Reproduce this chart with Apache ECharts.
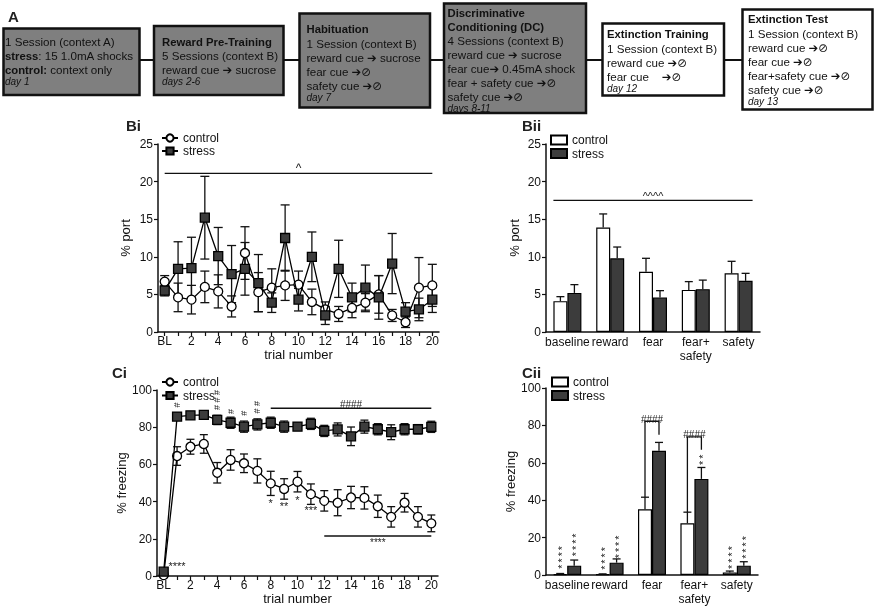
<!DOCTYPE html>
<html><head><meta charset="utf-8">
<script src="https://cdn.jsdelivr.net/npm/echarts@6/dist/echarts.min.js"></script>
<style>html,body{margin:0;padding:0;background:#fff}#c{width:876px;height:606px;will-change:transform}#c svg{will-change:transform}</style>
</head><body><div id="c"></div>
<script>
// ---------------- DATA ----------------
const trialLabels = ['BL','1','2','3','4','5','6','7','8','9','10','11','12','13','14','15','16','17','18','19','20'];
const barCategories = ['baseline','reward','fear','fear+\nsafety','safety'];

// Bi: % port by trial
const portControl    = [6.7,4.6,4.3,6.0,5.4,3.4,10.5,5.3,5.9,6.2,6.3,4.0,3.0,2.4,3.2,3.9,5.0,2.2,1.3,5.9,6.2];
const portControlErr = [0.8,1.9,1.9,2.1,2.2,1.4,3.5,2.6,2.5,2.0,1.8,1.7,1.0,1.0,1.3,1.2,2.5,0.8,0.7,4.0,2.8];
const portStress     = [5.5,8.4,8.5,15.2,10.1,7.7,8.4,6.5,3.9,12.5,4.3,10.0,2.2,8.4,4.6,5.9,4.6,9.1,2.7,3.0,4.3];
const portStressErr  = [0.7,3.6,4.1,5.5,3.8,3.8,3.5,3.8,1.3,4.4,1.5,3.3,1.2,3.8,1.9,3.0,2.9,4.0,1.2,1.5,1.7];

// Bii: % port by cue
const portBarControl    = [4.1,13.9,8.0,5.6,7.8];
const portBarControlErr = [0.6,1.8,1.8,1.1,1.6];
const portBarStress     = [5.2,9.8,4.6,5.7,6.8];
const portBarStressErr  = [1.1,1.5,0.9,1.2,1.0];

// Ci: % freezing by trial
const freezeControl    = [0.5,64.5,69.5,71.0,55.5,62.4,60.6,56.5,49.8,46.8,50.7,44.0,40.4,39.4,42.2,42.0,37.5,31.8,39.4,31.8,28.3];
const freezeControlErr = [0.5,5.0,4.0,5.0,5.5,5.5,5.0,6.5,6.5,5.5,5.5,5.5,5.5,7.0,6.0,6.0,6.0,5.5,5.0,5.5,4.5];
const freezeStress     = [2.3,85.7,86.4,86.6,83.9,82.4,80.3,81.5,82.4,80.3,80.3,81.8,78.0,78.8,75.1,80.3,78.9,77.3,78.9,78.9,80.2];
const freezeStressErr  = [1.0,2.0,2.0,2.0,2.5,3.0,3.0,3.0,3.0,3.0,2.0,3.0,3.0,3.5,5.0,3.5,3.0,4.0,3.0,2.5,3.0];

// Cii: % freezing by cue
const freezeBarControl    = [0.5,0.4,35.2,27.7,1.4];
const freezeBarControlErr = [0.3,0.2,6.4,5.9,0.7];
const freezeBarStress     = [5.0,6.6,66.4,51.4,5.0];
const freezeBarStressErr  = [3.0,2.0,4.5,6.1,2.1];

// significance annotations (data coordinates)
const sigLinesBi  = [[0,20,21.1,'^','top']];
const sigLinesBii = [[0,4,17.5,'^^^^','top']];
const sigLinesCi  = [[8,20,90.2,'####','top'],[12,20,21.5,'****','bottom']];
const hashMarksCi = [[1,92,'#'],[4,94.6,'# # #'],[5,88.5,'#'],[6,87.5,'#'],[7,90.7,'# #']];
const starMarksCi = [[8,39.5,'*'],[9,37.5,'**'],[10,41,'*'],[11,35.5,'***'],[1,5.5,'****']];
const bracketsCii = [[2,41.6,82.1,75,'####'],[3,33.6,73.9,67,'####']];
const S4 = '*\u2009*\u2009*\u2009*', S2 = '*\u2009*';
const starStacksCii = [[0,-1,9.4,S4],[0,1,16.1,S4],[1,-1,8.8,S4],[1,1,15,S4],[4,-1,9.3,S4],[4,1,14.7,S4],[3,1,61.6,S2]];

// ---------------- STYLE ----------------
const F = "'Liberation Sans','DejaVu Sans',Arial,sans-serif";
const INK = '#111';
const NOTE = '#222';
const STRESS_FILL = '#3c3c3c';
const BAR_W = 14;

function xCat(grid, data, extra) {
  return Object.assign({
    gridIndex: grid, type: 'category', data: data, boundaryGap: true,
    axisLine: {show: true, lineStyle: {color: INK, width: 1.5}},
    splitLine: {show: false},
    nameTextStyle: {color: INK, fontSize: 13, fontFamily: F}
  }, extra);
}
function yVal(grid, max, step, name, gap) {
  return {
    gridIndex: grid, type: 'value', min: 0, max: max, interval: step,
    name: name, nameLocation: 'middle', nameGap: gap,
    nameTextStyle: {color: INK, fontSize: 13, fontFamily: F},
    axisLine: {show: true, lineStyle: {color: INK, width: 1.5}},
    axisTick: {show: true, length: 4, lineStyle: {color: INK, width: 1.2}},
    axisLabel: {color: INK, fontSize: 12, fontFamily: F, margin: 5},
    splitLine: {show: false}
  };
}

function errorBars(gi, means, errs, opts) {
  return {
    type: 'custom', xAxisIndex: gi, yAxisIndex: gi, z: opts.z || 2, silent: true,
    itemStyle: {color: INK},
    data: means.map((m, i) => [i, m, errs[i]]),
    encode: {x: 0, y: 1},
    renderItem: function (params, api) {
      const i = api.value(0), m = api.value(1), e = api.value(2);
      const c = api.coord([i, m]);
      const t = api.coord([i, m + e]);
      const b = api.coord([i, opts.up ? m : Math.max(0, m - e)]);
      const x = c[0] + (opts.dx || 0), hw = opts.cap / 2;
      const st = {stroke: INK, lineWidth: 1.3, fill: null};
      const ch = [
        {type: 'line', shape: {x1: x, y1: t[1], x2: x, y2: b[1]}, style: st},
        {type: 'line', shape: {x1: x - hw, y1: t[1], x2: x + hw, y2: t[1]}, style: st}
      ];
      if (!opts.up) ch.push({type: 'line', shape: {x1: x - hw, y1: b[1], x2: x + hw, y2: b[1]}, style: st});
      return {type: 'group', children: ch};
    }
  };
}

function sigLines(gi, items, ext, fs) {
  return {
    type: 'custom', xAxisIndex: gi, yAxisIndex: gi, z: 6, silent: true,
    itemStyle: {color: NOTE},
    data: items.map(it => [it[0], it[2]]), encode: {x: 0, y: 1},
    renderItem: function (params, api) {
      const it = items[params.dataIndex];
      const a = api.coord([it[0], it[2]]), b = api.coord([it[1], it[2]]);
      const x1 = a[0] - ext, x2 = b[0] + ext, y = a[1];
      const top = it[4] === 'top';
      return {type: 'group', children: [
        {type: 'line', shape: {x1: x1, y1: y, x2: x2, y2: y}, style: {stroke: INK, lineWidth: 1.4}},
        {type: 'text', x: (x1 + x2) / 2, y: y + 1,
         style: {text: it[3], fill: NOTE, fontSize: fs, fontFamily: F,
                 align: 'center', verticalAlign: top ? 'bottom' : 'top'}}
      ]};
    }
  };
}

// text marks; multi-mark stacks are written as one rotated line so they stack vertically
function textMarks(gi, items, fs, vertical) {
  return {
    type: 'custom', xAxisIndex: gi, yAxisIndex: gi, z: 6, silent: true,
    itemStyle: {color: NOTE},
    data: items.map(it => [it[0], it[1]]), encode: {x: 0, y: 1},
    renderItem: function (params, api) {
      const it = items[params.dataIndex];
      const p = api.coord([it[0], it[1]]);
      return {type: 'text', x: p[0], y: p[1], rotation: vertical ? Math.PI / 2 : 0,
        style: {text: it[2], fill: NOTE, fontSize: fs, fontFamily: F,
                align: 'center', verticalAlign: 'middle'}};
    }
  };
}

function starStacks(gi, items) {
  return {
    type: 'custom', xAxisIndex: gi, yAxisIndex: gi, z: 6, silent: true,
    itemStyle: {color: NOTE},
    data: items.map(it => [it[0], it[2]]), encode: {x: 0, y: 1},
    renderItem: function (params, api) {
      const it = items[params.dataIndex];
      const p = api.coord([it[0], it[2]]);
      return {type: 'text', x: p[0] + it[1] * BAR_W / 2 + 2, y: p[1], rotation: Math.PI / 2,
        style: {text: it[3], fill: NOTE, fontSize: 10.5, fontFamily: F,
                align: 'center', verticalAlign: 'middle'}};
    }
  };
}

function brackets(gi, items) {
  return {
    type: 'custom', xAxisIndex: gi, yAxisIndex: gi, z: 6, silent: true,
    itemStyle: {color: NOTE},
    data: items.map(it => [it[0], it[2]]), encode: {x: 0, y: 1},
    renderItem: function (params, api) {
      const it = items[params.dataIndex];
      const c = api.coord([it[0], it[1]]);
      const xl = c[0] - BAR_W / 2, xr = c[0] + BAR_W / 2;
      const yl = c[1], yt = api.coord([it[0], it[2]])[1], yr = api.coord([it[0], it[3]])[1];
      return {type: 'group', children: [
        {type: 'polyline', shape: {points: [[xl, yl], [xl, yt], [xr, yt], [xr, yr]]},
         style: {stroke: INK, lineWidth: 1.3, fill: null}},
        {type: 'text', x: c[0], y: yt + 3,
         style: {text: it[4], fill: NOTE, fontSize: 10, fontFamily: F, align: 'center', verticalAlign: 'bottom'}}
      ]};
    }
  };
}

function lineSeries(gi, name, data, isStress) {
  return {
    type: 'line', name: name, xAxisIndex: gi, yAxisIndex: gi, data: data,
    symbol: isStress ? 'rect' : 'circle', symbolSize: 9, showSymbol: true, showAllSymbol: true,
    z: isStress ? 5 : 4,
    itemStyle: {color: isStress ? STRESS_FILL : '#fff', borderColor: '#000', borderWidth: 1.3},
    lineStyle: {color: '#000', width: 1.3}, silent: true
  };
}
function barSeries(gi, name, data, isStress) {
  return {
    type: 'bar', name: name, xAxisIndex: gi, yAxisIndex: gi, data: data,
    barWidth: BAR_W, barGap: '0%', z: 2, silent: true,
    itemStyle: {color: isStress ? STRESS_FILL : '#fff', borderColor: '#000', borderWidth: 1.2}
  };
}

function lineLegend(left, top, gap) {
  return {data: ['control', 'stress'], orient: 'vertical', left: left, top: top, padding: 0,
    itemWidth: 16, itemHeight: 9, itemGap: gap, selectedMode: false,
    textStyle: {color: INK, fontSize: 12, lineHeight: 11, fontFamily: F}};
}
function barLegend(left, top, gap) {
  return {data: ['control bar', 'stress bar'], orient: 'vertical', left: left, top: top, padding: 0,
    icon: 'rect', itemWidth: 16, itemHeight: 9, itemGap: gap, selectedMode: false,
    formatter: n => n.split(' ')[0],
    textStyle: {color: INK, fontSize: 12, lineHeight: 11, fontFamily: F}};
}

// ---------------- PANEL A (protocol boxes) ----------------
const GREY = '#7f7f7f';
const boxes = [
  {x: 3.5, y: 28.5, w: 136, h: 66.5, fill: GREY, tx: 5, ty: 34.5,
   text: '{n|1 Session (context A)}\n{b|stress}{n|: 15 1.0mA shocks}\n{b|control:}{n| context only}\n{i|day 1}'},
  {x: 154, y: 26, w: 129.5, h: 69, fill: GREY, tx: 162, ty: 34.5,
   text: '{b|Reward Pre-Training}\n{n|5 Sessions (context B)}\n{n|reward cue ➔ sucrose}\n{i|days 2-6}'},
  {x: 299.5, y: 13.5, w: 130.5, h: 94, fill: GREY, tx: 306.5, ty: 22,
   text: '{b|Habituation}\n{n|1 Session (context B)}\n{n|reward cue ➔ sucrose}\n{n|fear cue ➔⊘}\n{n|safety cue ➔⊘}\n{i|day 7}'},
  {x: 444, y: 3.5, w: 142, h: 109.5, fill: GREY, tx: 447.5, ty: 5.5,
   text: '{b|Discriminative}\n{b|Conditioning (DC)}\n{n|4 Sessions (context B)}\n{n|reward cue ➔ sucrose}\n{n|fear cue➔ 0.45mA shock}\n{n|fear + safety cue ➔⊘}\n{n|safety cue ➔⊘}\n{i|days 8-11}'},
  {x: 602.5, y: 23.5, w: 121.5, h: 72, fill: '#fff', tx: 607, ty: 27,
   text: '{b|Extinction Training}\n{n|1 Session (context B)}\n{n|reward cue ➔⊘}\n{n|fear cue    ➔⊘}\n{i|day 12}'},
  {x: 742.5, y: 9.5, w: 130, h: 100, fill: '#fff', tx: 748, ty: 12,
   text: '{b|Extinction Test}\n{n|1 Session (context B)}\n{n|reward cue ➔⊘}\n{n|fear cue ➔⊘}\n{n|fear+safety cue ➔⊘}\n{n|safety cue ➔⊘}\n{i|day 13}'}
];
const rich = {
  n: {fontSize: 11.6, lineHeight: 14, fontFamily: F, fill: '#111'},
  b: {fontSize: 11.3, lineHeight: 14, fontFamily: F, fontWeight: 'bold', fill: '#111'},
  i: {fontSize: 10, lineHeight: 10, fontFamily: F, fontStyle: 'italic', fill: '#111'}
};
const graphics = [];
for (let k = 0; k < boxes.length - 1; k++) {
  graphics.push({type: 'line', shape: {x1: boxes[k].x + boxes[k].w, y1: 60, x2: boxes[k + 1].x, y2: 60},
    style: {stroke: '#111', lineWidth: 2}});
}
boxes.forEach(b => {
  graphics.push({type: 'rect', shape: {x: b.x, y: b.y, width: b.w, height: b.h},
    style: {fill: b.fill, stroke: '#111', lineWidth: 2.5}});
  graphics.push({type: 'text', x: b.tx, y: b.ty,
    style: {text: b.text, rich: rich, fontFamily: F, fontSize: 12, verticalAlign: 'top', align: 'left'}});
});
[['A', 8, 16], ['Bi', 126, 125], ['Bii', 522, 125], ['Ci', 112, 372], ['Cii', 522, 372]].forEach(p => {
  graphics.push({type: 'text', x: p[1], y: p[2],
    style: {text: p[0], fontSize: 15, fontWeight: 'bold', fontFamily: F, fill: '#222', verticalAlign: 'middle'}});
});

// ---------------- OPTION ----------------
const option = {
  animation: false,
  backgroundColor: '#fff',
  textStyle: {fontFamily: F},
  grid: [
    {left: 158, top: 144, width: 281, height: 188},
    {left: 546, top: 144, width: 214, height: 188},
    {left: 157, top: 390, width: 281, height: 186},
    {left: 546, top: 388, width: 212, height: 187}
  ],
  xAxis: [
    xCat(0, trialLabels, {axisTick: {show: true, alignWithLabel: true, interval: 0, length: 4, lineStyle: {color: INK, width: 1.2}},
      axisLabel: {interval: 1, margin: 3, color: INK, fontSize: 12, fontFamily: F},
      name: 'trial number', nameLocation: 'middle', nameGap: 13}),
    xCat(1, barCategories, {axisTick: {show: false},
      axisLabel: {interval: 0, margin: 3, color: INK, fontSize: 12, lineHeight: 14, fontFamily: F}}),
    xCat(2, trialLabels, {axisTick: {show: true, alignWithLabel: true, interval: 0, length: 4, lineStyle: {color: INK, width: 1.2}},
      axisLabel: {interval: 1, margin: 3, color: INK, fontSize: 12, fontFamily: F},
      name: 'trial number', nameLocation: 'middle', nameGap: 14}),
    xCat(3, barCategories, {axisTick: {show: false},
      axisLabel: {interval: 0, margin: 3, color: INK, fontSize: 12, lineHeight: 14, fontFamily: F}})
  ],
  yAxis: [
    yVal(0, 25, 5, '% port', 26),
    yVal(1, 25, 5, '% port', 25),
    yVal(2, 100, 20, '% freezing', 26),
    yVal(3, 100, 20, '% freezing', 24)
  ],
  legend: [lineLegend(161, 132, 1), barLegend(550, 134, 1.5), lineLegend(161, 376, 1.5), barLegend(551, 376, 1.5)],
  graphic: graphics,
  series: [
    // Bi
    errorBars(0, portControl, portControlErr, {cap: 9}),
    errorBars(0, portStress, portStressErr, {cap: 9}),
    lineSeries(0, 'control', portControl, false),
    lineSeries(0, 'stress', portStress, true),
    sigLines(0, sigLinesBi, 0, 12),
    // Bii
    barSeries(1, 'control bar', portBarControl, false),
    barSeries(1, 'stress bar', portBarStress, true),
    errorBars(1, portBarControl, portBarControlErr, {cap: 8, up: true, dx: -BAR_W / 2, z: 3}),
    errorBars(1, portBarStress, portBarStressErr, {cap: 8, up: true, dx: BAR_W / 2, z: 3}),
    sigLines(1, sigLinesBii, BAR_W, 11),
    // Ci
    errorBars(2, freezeControl, freezeControlErr, {cap: 8}),
    errorBars(2, freezeStress, freezeStressErr, {cap: 8}),
    lineSeries(2, 'control', freezeControl, false),
    lineSeries(2, 'stress', freezeStress, true),
    sigLines(2, sigLinesCi, 0, 10),
    textMarks(2, hashMarksCi, 9, true),
    textMarks(2, starMarksCi, 11, false),
    // Cii
    barSeries(3, 'control bar', freezeBarControl, false),
    barSeries(3, 'stress bar', freezeBarStress, true),
    errorBars(3, freezeBarControl, freezeBarControlErr, {cap: 8, up: true, dx: -BAR_W / 2, z: 3}),
    errorBars(3, freezeBarStress, freezeBarStressErr, {cap: 8, up: true, dx: BAR_W / 2, z: 3}),
    brackets(3, bracketsCii),
    starStacks(3, starStacksCii)
  ]
};

const chart = echarts.init(document.getElementById('c'), null, {renderer: 'svg', width: 876, height: 606});
chart.setOption(option);
</script>
</body></html>
